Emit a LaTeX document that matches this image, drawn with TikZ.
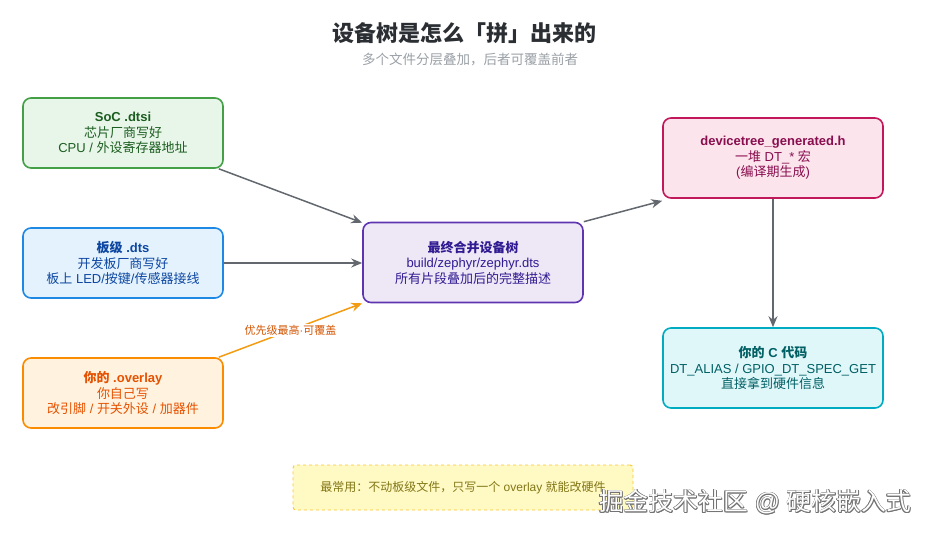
\documentclass[tikz,border=0pt]{standalone}
\usepackage{fontspec}
\setmainfont{Liberation Sans}
\newfontfamily\cjk{Noto Sans CJK SC}
\XeTeXinterchartokenstate=1
\newXeTeXintercharclass\CJKcls
\count255="3000
\loop \XeTeXcharclass\count255=\CJKcls \ifnum\count255<"9FFF \advance\count255 by 1 \repeat
\count255="FF00
\loop \XeTeXcharclass\count255=\CJKcls \ifnum\count255<"FFEF \advance\count255 by 1 \repeat
\XeTeXinterchartoks 0 \CJKcls = {\cjk}
\XeTeXinterchartoks 4095 \CJKcls = {\cjk}
\XeTeXinterchartoks \CJKcls 0 = {\rmfamily}
\XeTeXinterchartoks \CJKcls 4095 = {\rmfamily}
\usetikzlibrary{arrows.meta}
\definecolor{gF}{HTML}{E8F5E9}\definecolor{gD}{HTML}{43A047}\definecolor{gT}{HTML}{1B5E20}
\definecolor{bF}{HTML}{E3F2FD}\definecolor{bD}{HTML}{1E88E5}\definecolor{bT}{HTML}{0D47A1}
\definecolor{oF}{HTML}{FFF3E0}\definecolor{oD}{HTML}{FB8C00}\definecolor{oT}{HTML}{E65100}
\definecolor{pF}{HTML}{EDE7F6}\definecolor{pD}{HTML}{5E35B1}\definecolor{pT}{HTML}{311B92}
\definecolor{kF}{HTML}{FCE4EC}\definecolor{kD}{HTML}{C2185B}\definecolor{kT}{HTML}{880E4F}
\definecolor{cF}{HTML}{E0F7FA}\definecolor{cD}{HTML}{00ACC1}\definecolor{cT}{HTML}{006064}
\definecolor{yF}{HTML}{FFF9C4}\definecolor{yD}{HTML}{F9C833}\definecolor{yT}{HTML}{827717}
\definecolor{arr}{HTML}{62686E}
\definecolor{oarr}{HTML}{F39C12}
\definecolor{lblT}{HTML}{D35400}
\definecolor{titleT}{HTML}{2B2F33}
\definecolor{subT}{HTML}{9AA0A6}
\begin{document}
\begin{tikzpicture}[x=1pt,y=-1pt,
  box/.style={draw, line width=1.6pt, rounded corners=8pt, align=center,
    inner sep=0pt, font=\fontsize{13}{15.5}\selectfont},
  leftbox/.style={box, minimum width=200pt, minimum height=70pt},
  rightbox/.style={box, minimum width=220pt, minimum height=80pt},
  conn/.style={draw=arr, line width=1.5pt, -{Stealth[length=11pt,width=9pt]}},
  oconn/.style={draw=oarr, line width=1.5pt, -{Stealth[length=11pt,width=9pt]}},
  wm/.style={font=\fontsize{24.8}{25}\selectfont}]
\useasboundingbox (0,0) rectangle (927,535);
\node[font=\fontsize{22}{24}\selectfont\bfseries, text=titleT] (title) at (464,33) {设备树是怎么「拼」出来的};
\node[font=\fontsize{13.5}{15}\selectfont, text=subT] (sub) at (470,60) {多个文件分层叠加，后者可覆盖前者};

\node[leftbox, fill=gF, draw=gD, text=gT] (soc) at (123,133) {\textbf{SoC .dtsi}\\芯片厂商写好\\CPU / 外设寄存器地址};
\node[leftbox, fill=bF, draw=bD, text=bT] (board) at (123,263) {\textbf{板级 .dts}\\开发板厂商写好\\板上 LED/按键/传感器接线};
\node[leftbox, fill=oF, draw=oD, text=oT] (ovl) at (123,393) {\textbf{你的 .overlay}\\你自己写\\改引脚 / 开关外设 / 加器件};
\node[rightbox, fill=pF, draw=pD, text=pT] (merge) at (473,262.5) {\textbf{最终合并设备树}\\build/zephyr/zephyr.dts\\所有片段叠加后的完整描述};
\node[rightbox, fill=kF, draw=kD, text=kT] (gen) at (773,158) {\textbf{devicetree\_generated.h}\\一堆 DT\_* 宏\\(编译期生成)};
\node[rightbox, fill=cF, draw=cD, text=cT] (ccode) at (773,368) {\textbf{你的 C 代码}\\DT\_ALIAS / GPIO\_DT\_SPEC\_GET\\直接拿到硬件信息};

\node[draw=yD, fill=yF, dashed, line width=0.9pt, rounded corners=3pt, minimum width=340pt, minimum height=45pt,
  text=yT, font=\fontsize{12}{14}\selectfont] (note) at (463,487.5) {最常用：不动板级文件，只写一个 overlay 就能改硬件};

\draw[conn] ([xshift=-5pt]soc.south east) -- ([yshift=-1pt]merge.north west);
\draw[conn] (board.east) -- (merge.west |- board.east);
\draw[oconn] ([xshift=-5pt]ovl.north east) -- node[fill=white, inner sep=1.5pt, text=lblT, font=\fontsize{11}{12}\selectfont] (lbl) {优先级最高·可覆盖} (merge.south west);
\draw[conn] (merge.north east) -- ([yshift=-2pt]gen.south west);
\draw[conn] (gen.south) -- (ccode.north);

\foreach \dx/\dy in {-0.6/0,0.6/0,0/-0.6,0/0.6,-0.45/-0.45,0.45/0.45,-0.45/0.45,0.45/-0.45,1/1}
  \node[wm, text=black!55] at (755+\dx,502+\dy) {掘金技术社区 @ 硬核嵌入式};
\node[wm, text=white] (wmark) at (755,502) {掘金技术社区 @ 硬核嵌入式};
\end{tikzpicture}
\end{document}
